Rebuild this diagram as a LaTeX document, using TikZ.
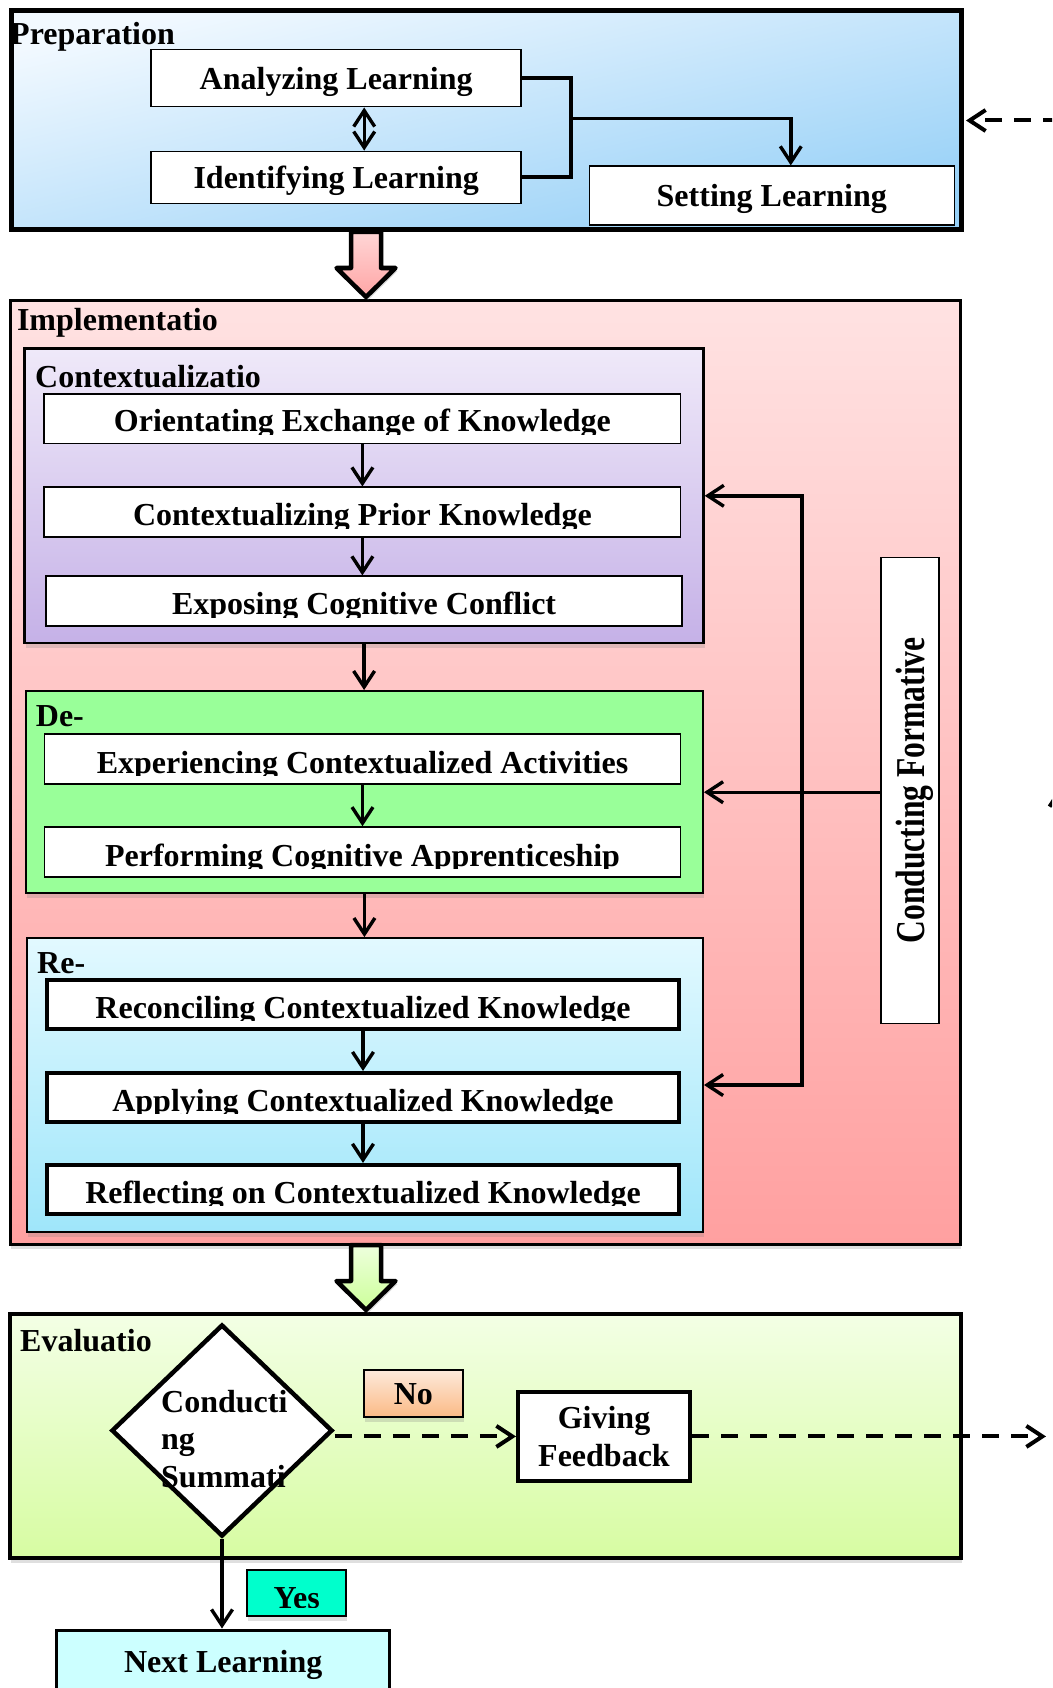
\documentclass[tikz,border=0pt]{standalone}
\usepackage{fontspec}
\usepackage{graphicx}
\setmainfont{Liberation Serif}
\usetikzlibrary{arrows.meta,shapes.geometric,shadows}
\newcommand{\mainfnt}{\fontsize{32}{37.5}\selectfont\bfseries}
\definecolor{prepA}{HTML}{F2F9FF}
\definecolor{prepB}{HTML}{96D0F7}
\definecolor{implA}{HTML}{FFE2E2}
\definecolor{implB}{HTML}{FFA0A0}
\definecolor{ctxA}{HTML}{EFE9F9}
\definecolor{ctxB}{HTML}{C5B1E7}
\definecolor{deC}{HTML}{99FF99}
\definecolor{reA}{HTML}{E2F9FF}
\definecolor{reB}{HTML}{9FE6FA}
\definecolor{evalA}{HTML}{F3FFE5}
\definecolor{evalB}{HTML}{D7FCA2}
\definecolor{noA}{HTML}{FDE9DA}
\definecolor{noB}{HTML}{FBBA85}
\definecolor{yesC}{HTML}{00FFCC}
\definecolor{nextC}{HTML}{CCFFFF}
\definecolor{arrA}{HTML}{FFD6D6}
\definecolor{arrB}{HTML}{FFA5A5}
\definecolor{arrC}{HTML}{EEFFDD}
\definecolor{arrD}{HTML}{CCFF99}
\begin{document}
\begin{tikzpicture}[x=1pt,y=-1pt,>={Straight Barb[length=16pt,width=21pt]},
	shadowed/.style={drop shadow={shadow xshift=1pt,shadow yshift=-5pt,opacity=0.25}},
	panel/.style={draw,inner sep=0pt},
	lbl/.style={font=\mainfnt,inner sep=0pt,anchor=base west},
	box/.style={draw,fill=white,line width=1.6pt,inner sep=0pt,font=\mainfnt},
	stepbox/.style={box,text height=22pt,text depth=0pt},
	cutbox/.style 2 args={box,path picture={
		\clip ([yshift=8.5pt]path picture bounding box.south west) rectangle (path picture bounding box.north east);
		\node[font=\mainfnt,inner sep=0pt,anchor=base] at ([yshift=#1]path picture bounding box.south) {#2};}},
	conn/.style={line width=3.4pt},
	dashln/.style={line width=4pt,dash pattern=on 17pt off 12pt},
	blk/.style={line width=4.5pt,line join=round,drop shadow={shadow xshift=2pt,shadow yshift=-3pt,opacity=0.3}}]
	\useasboundingbox (0,0) rectangle (1052,1688);
	\clip (0,0) rectangle (1052,1688);
	
	\node[panel,line width=5pt,top color=prepA,bottom color=prepB,shading angle=13,minimum width=950pt,minimum height=219pt] (prep) at (486,120.5) {};
	\node[lbl] (prepl) at (10,45) {Preparation};
	\node[stepbox,minimum width=370pt,minimum height=57pt] (ana) at (336.2,78.2) {Analyzing Learning};
	\node[stepbox,minimum width=370pt,minimum height=52pt] (idf) at (336.2,177.4) {Identifying Learning};
	\node[stepbox,minimum width=365pt,minimum height=59pt] (set) at (771.8,195.7) {Setting Learning};
	\coordinate (brk) at (570.5,118.3);
	\draw[line width=4pt] (ana.east) -| (brk) |- (idf.east);
	\draw[conn,->] (brk) -| ([xshift=19pt]set.north);
	\draw[conn,<->] ([xshift=28pt]ana.south) -- ([xshift=28pt]idf.north);
	
	\node[panel,shadowed,line width=3pt,top color=implA,bottom color=implB,minimum width=950pt,minimum height=943.5pt] (impl) at (485,772.7) {};
	\node[lbl] (impll) at (16.8,330) {Implementatio};
	
	\node[panel,shadowed,line width=2.5pt,top color=ctxA,bottom color=ctxB,minimum width=678.8pt,minimum height=294.5pt] (ctx) at (364.1,495.8) {};
	\node[lbl] (ctxl) at (35,387.3) {Contextualizatio};
	\node[cutbox={11.5pt}{Orientating Exchange of Knowledge},minimum width=636.5pt,minimum height=49.5pt] (ori) at (362.4,418.7) {};
	\node[cutbox={11pt}{Contextualizing Prior Knowledge},minimum width=636.5pt,minimum height=49.5pt] (ctp) at (362.4,512) {};
	\node[cutbox={11.5pt}{Exposing Cognitive Conflict},minimum width=636pt,minimum height=50pt] (exp) at (364.1,601.2) {};
	\draw[conn,->] (ori.south) -- (ctp.north);
	\draw[conn,->] (ctp.south) -- (ctp.south |- exp.north);
	
	\node[panel,shadowed,line width=2pt,fill=deC,minimum width=677.2pt,minimum height=202.3pt] (de) at (364.4,792.2) {};
	\node[lbl] (del) at (35.7,726) {De-};
	\node[cutbox={10.5pt}{Experiencing Contextualized Activities},minimum width=636pt,minimum height=49.7pt] (exa) at (362.5,759) {};
	\node[cutbox={11pt}{Performing Cognitive Apprenticeship},minimum width=636pt,minimum height=50pt] (per) at (362.5,852) {};
	\draw[conn,->] (exa.south) -- (per.north);
	\draw[conn,->] (ctx.south) -- (ctx.south |- de.north);
	
	\node[panel,shadowed,line width=2pt,top color=reA,bottom color=reB,minimum width=676.2pt,minimum height=293.8pt] (re) at (364.9,1085) {};
	\node[lbl] (rel) at (37,973.6) {Re-};
	\node[cutbox={11pt}{Reconciling Contextualized Knowledge},line width=4pt,minimum width=632pt,minimum height=48.8pt] (rec) at (363,1004.6) {};
	\node[cutbox={10.5pt}{Applying Contextualized Knowledge},line width=4pt,minimum width=632pt,minimum height=49pt] (app) at (363,1097.5) {};
	\node[cutbox={10pt}{Reflecting on Contextualized Knowledge},line width=4pt,minimum width=632pt,minimum height=48.8pt] (ref) at (363,1189.3) {};
	\draw[conn,->] (rec.south) -- (app.north);
	\draw[conn,->] (app.south) -- (ref.north);
	\draw[conn,->] (de.south) -- (de.south |- re.north);
	
	\node[box,line width=1.5pt,minimum width=58pt,minimum height=466pt,font={\fontsize{41}{45}\selectfont\bfseries}] (form) at (910,790.3) {\rotatebox{90}{\raisebox{0pt}[28pt][0pt]{\scalebox{0.77}[1]{Conducting Formative}}}};
	\coordinate (bus) at (802,790);
	\draw[conn,<->] (ctx.east) -| (bus) |- (re.east);
	\draw[conn,->] (form.west |- de.east) -- (de.east);
	
	\node[panel,shadowed,line width=4pt,top color=evalA,bottom color=evalB,minimum width=951pt,minimum height=244.3pt] (eval) at (485.5,1435.9) {};
	\node[lbl] (evall) at (20,1351.7) {Evaluatio};
	\node[diamond,draw,fill=white,line width=4.5pt,inner sep=0pt,minimum width=221pt,minimum height=212pt] (dia) at (222,1430.5) {};
	\node[font=\mainfnt,inner sep=0pt,align=left,anchor=north west] (diat) at (161,1389.7) {Conducti\\ng\\Summati};
	\node[stepbox,shadowed,line width=2pt,top color=noA,bottom color=noB,minimum width=99pt,minimum height=47pt] (no) at (413.4,1393.8) {No};
	\node[box,line width=4pt,minimum width=172pt,minimum height=88.7pt,align=center] (gfb) at (604,1436.4) {Giving\\Feedback};
	\node[cutbox={7pt}{Yes},shadowed,line width=2pt,fill=yesC,minimum width=99pt,minimum height=45.7pt] (yes) at (296.7,1592.9) {};
	\node[stepbox,line width=3pt,fill=nextC,minimum width=333pt,minimum height=62pt] (nxt) at (223.2,1661) {Next Learning};
	\draw[dashln,->] (dia.east |- gfb.west) -- (gfb.west);
	\draw[conn,->] (dia.south) -- (dia.south |- nxt.north);
	
	\coordinate (loopB) at (1046,1436.4);
	\coordinate (loopR) at (1060,1436.4);
	\coordinate (loopM) at (1060,787);
	\coordinate (loopT) at (1060,120.5);
	\draw[dashln,->] (gfb.east) -- (loopB);
	\draw[dashln,->] (loopR) -- (loopM);
	\draw[dashln,->,shorten >=2.5pt] (loopM) -- (loopT) -- (prep.east);
	
	\coordinate (ar1) at (366,232);
	\draw[blk,top color=arrA,bottom color=arrB] (ar1) ++(-15,0) -- ++(30,0) -- ++(0,36) -- ++(14.5,0) -- ++(-29.5,29) -- ++(-29.5,-29) -- ++(14.5,0) -- cycle;
	\coordinate (ar2) at (366,1245);
	\draw[blk,top color=arrC,bottom color=arrD] (ar2) ++(-15,0) -- ++(30,0) -- ++(0,36) -- ++(14.5,0) -- ++(-29.5,29) -- ++(-29.5,-29) -- ++(14.5,0) -- cycle;
\end{tikzpicture}
\end{document}
